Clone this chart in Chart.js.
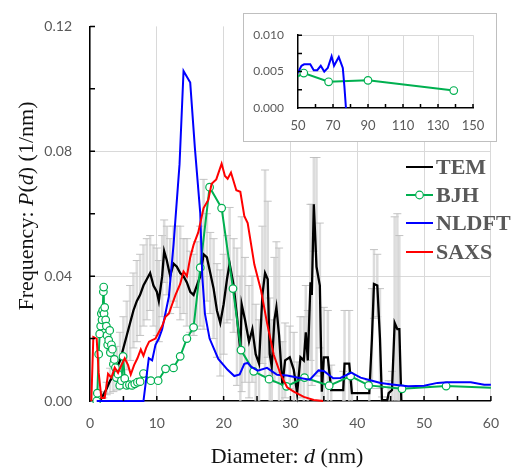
<!DOCTYPE html>
<html>
<head>
<meta charset="utf-8">
<script src="https://cdn.jsdelivr.net/npm/chart.js@4/dist/chart.umd.min.js"></script>
<style>
  body { margin: 0; background: #fff; }
  #wrap { position: relative; width: 513px; height: 472px; }
  #main { position: absolute; left: 0; top: 0; }
  #box { position: absolute; left: 243px; top: 13px; width: 254px; height: 129px; box-sizing: border-box; border: 1px solid #bfbfbf; background: #fff; }
  #inset { position: absolute; left: 0; top: 0; }
</style>
</head>
<body>
<div id="wrap">
  <canvas id="main" width="513" height="472"></canvas>
  <div id="box"><canvas id="inset" width="252" height="127"></canvas></div>
</div>
<script>
// TEM histogram (line) + error
const temX = [1.5, 2, 2.5, 3, 3.5, 4, 4.5, 5, 5.5, 6,
  6.5, 7, 7.5, 8, 8.5, 9, 9.5, 10, 10.3, 10.8,
  11.1, 11.5, 12, 12.5, 13, 13.5, 14, 14.5, 15, 15.5,
  16, 16.5, 17, 17.5, 18, 18.5, 19, 19.5, 20, 20.5,
  20.9, 21.5, 22, 22.5, 22.7, 23.2, 23.8, 24.3, 24.8, 25.3,
  25.8, 26.2, 26.6, 26.9, 27.2, 27.6, 27.9, 28.3, 28.8, 29.2,
  29.9, 30.5, 31.0, 31.5, 32.0, 32.3, 32.6, 33.0, 33.2, 33.5,
  33.9, 34.4, 34.7, 35.0, 35.6, 36.1, 37.9, 38.1, 38.8, 39.2,
  41.8, 42.2, 42.5, 43.0, 43.4, 43.7, 44.5, 44.7, 45.2, 45.6,
  46.0, 46.3, 46.6];
const temY = [0, 0.002, 0.004, 0.0065, 0.008, 0.0105, 0.013, 0.017, 0.021, 0.025,
  0.029, 0.032, 0.034, 0.037, 0.039, 0.041, 0.037, 0.035, 0.032, 0.040,
  0.048, 0.045, 0.040, 0.044, 0.043, 0.041, 0.040, 0.038, 0.035, 0.034,
  0.037, 0.040, 0.047, 0.046, 0.041, 0.036, 0.029, 0.025, 0.031, 0.039,
  0.044, 0.037, 0.027, 0.016, 0.031, 0.026, 0.019, 0.023, 0.015, 0.012,
  0.034, 0.041, 0.039, 0.015, 0.011, 0.026, 0.030, 0.021, 0.005, 0.013,
  0.014, 0.010, 0.0025, 0.014, 0.013, 0.022, 0.013, 0.038, 0.034, 0.063,
  0.043, 0.037, 0.003, 0.014, 0.014, 0.0035, 0.0035, 0.012, 0.012, 0.0025,
  0.0025, 0.020, 0.0375, 0.037, 0.020, 0.0003, 0.0003, 0.0025, 0.0035, 0.025,
  0.023, 0.023, 0];
const temErr = [0, 0.001, 0.002, 0.004, 0.005, 0.007, 0.009, 0.010, 0.011, 0.012,
  0.012, 0.013, 0.013, 0.013, 0.013, 0.012, 0.013, 0.014, 0.013, 0.013,
  0.010, 0.011, 0.012, 0.012, 0.013, 0.015, 0.012, 0.014, 0.013, 0.013,
  0.014, 0.016, 0.024, 0.014, 0.013, 0.016, 0.015, 0.017, 0.016, 0.014,
  0.018, 0.015, 0.022, 0.024, 0.028, 0.020, 0.018, 0.017, 0.016, 0.014,
  0.022, 0.033, 0.025, 0.018, 0.015, 0.020, 0.021, 0.028, 0.014, 0.012,
  0.010, 0.012, 0.010, 0.013, 0.014, 0.015, 0.016, 0.025, 0.029, 0.015,
  0.035, 0.020, 0.006, 0.016, 0.015, 0.008, 0.006, 0.017, 0.017, 0.006,
  0.004, 0.016, 0.011, 0.010, 0.016, 0.001, 0.001, 0.004, 0.006, 0.034,
  0.037, 0.030, 0];

// BJH
const bjhX = [1.0, 1.1, 1.3, 1.45, 1.6, 1.7, 1.8, 1.9, 2.0, 2.05,
  2.1, 2.2, 2.35, 2.45, 2.55, 2.65, 2.8, 2.95, 3.05, 3.2,
  3.35, 3.5, 3.65, 3.8, 3.95, 4.2, 4.45, 4.7, 4.95, 5.2,
  5.5, 5.9, 6.3, 6.7, 7.1, 7.5, 8.0, 9.1, 10.2, 11.3,
  12.5, 13.5, 14.5, 15.5, 16.5, 17.9, 19.7, 21.4, 22.6, 24.5,
  26.8, 29.4, 32.1, 35.8, 39.0, 41.7, 46.7, 53.3, 67.5, 90.0, 139];
const bjhY = [0, 0.0025, 0.015, 0.0215, 0.024, 0.028, 0.026, 0.029, 0.035, 0.0365,
  0.028, 0.030, 0.026, 0.024, 0.021, 0.018, 0.0195, 0.0226, 0.0155, 0.018,
  0.0166, 0.0118, 0.0133, 0.0107, 0.0075, 0.0086, 0.005, 0.0065, 0.0143, 0.0072,
  0.005, 0.0052, 0.005, 0.0055, 0.006, 0.0062, 0.0088, 0.0065, 0.0065, 0.0103,
  0.0106, 0.0143, 0.020, 0.0236, 0.0427, 0.0685, 0.0618, 0.036, 0.0163, 0.0095,
  0.007, 0.0047, 0.0075, 0.0049, 0.008, 0.005, 0.0039, 0.0048, 0.0036, 0.0038, 0.0024];

// NLDFT
const nldftX = [1.0, 8.0, 8.8, 9.3, 9.8, 10.3, 10.8, 11.8, 12.5, 13.4,
  14.0, 15.0, 15.7, 16.5, 16.8, 17.2, 17.9, 19.2, 20.6, 21.6,
  22.4, 23.1, 23.6, 24.1, 25.1, 26.5, 28.0, 29.5, 31.0, 32.9,
  34.2, 35.0, 36.4, 37.5, 39.1, 40.5, 41.8, 43.5, 45.2, 47.6,
  50, 52.0, 53.5, 55, 57, 59, 61, 63, 65, 67,
  69.2, 70.6, 73.3, 75.6, 76.5, 77.4];
const nldftY = [0, 0, 0.0137, 0.013, 0.018, 0.020, 0.023, 0.0334, 0.050, 0.0758,
  0.1057, 0.102, 0.081, 0.0602, 0.040, 0.028, 0.020, 0.0135, 0.010, 0.008,
  0.0085, 0.0119, 0.0122, 0.011, 0.0097, 0.0106, 0.0084, 0.0082, 0.0075, 0.0068,
  0.0098, 0.0096, 0.0073, 0.0074, 0.0091, 0.0075, 0.0067, 0.0058, 0.0053, 0.0047,
  0.0049, 0.0058, 0.006, 0.006, 0.006, 0.0052, 0.0052, 0.0058, 0.005, 0.0055,
  0.0071, 0.0058, 0.007, 0.0055, 0.003, 0];

// SAXS
const saxsX = [0.2, 0.5, 1.0, 1.3, 1.7, 2.2, 2.5, 2.7, 3.2, 3.7,
  4.2, 4.7, 5.2, 5.7, 6.1, 6.6, 7.1, 7.6, 8.0, 8.4,
  8.85, 9.3, 9.8, 10.3, 10.8, 11.3, 11.8, 12.3, 12.8, 13.5,
  14.0, 14.5, 15.0, 15.5, 16.2, 17.0, 17.7, 18.2, 18.9, 19.7,
  20.2, 20.6, 21.1, 21.9, 22.5, 23.1, 23.6, 24.6, 25.6, 26.5,
  27.5, 28.5, 29.5, 30.5, 32.0, 33.5, 34.9];
const saxsY = [0, 0.0205, 0.020, 0.009, 0.001, 0.001, 0.0055, 0.0087, 0.0075, 0.0107,
  0.009, 0.0115, 0.0137, 0.0115, 0.0085, 0.0115, 0.0137, 0.0165, 0.0145, 0.017,
  0.019, 0.0195, 0.020, 0.022, 0.024, 0.027, 0.028, 0.031, 0.034, 0.0375,
  0.0415, 0.040, 0.046, 0.050, 0.054, 0.0618, 0.0644, 0.0696, 0.071, 0.076,
  0.0721, 0.0712, 0.0732, 0.0675, 0.067, 0.0592, 0.057, 0.0437, 0.0354, 0.025,
  0.0148, 0.0087, 0.0044, 0.003, 0.0013, 0.0003, 0];

const seriesNames = ['TEM', 'BJH', 'NLDFT', 'SAXS'];
const seriesColors = ['#000000', '#00b050', '#0000ff', '#ff0000'];

const pts = (xs, ys) => xs.map((x, i) => ({ x: x, y: ys[i] }));
const tickFont = { family: 'Lato', size: 14 };
const gray = '#595959';

function lineSet(i, xs, ys, extra) {
  return Object.assign({
    label: seriesNames[i],
    data: pts(xs, ys),
    borderColor: seriesColors[i],
    backgroundColor: seriesColors[i],
    borderWidth: 2,
    pointRadius: 0,
    tension: 0,
    order: 4 - i,
    clip: { left: 0, top: 0, right: 0, bottom: 2 }
  }, extra || {});
}
const bjhMarker = { pointRadius: 3.8, pointBackgroundColor: '#fff', pointBorderColor: '#00b050', pointBorderWidth: 1.2 };

// main chart decorations: error bars, inward ticks, titles, legend
const mainDecor = {
  id: 'mainDecor',
  beforeDatasetsDraw(chart) {
    const { ctx, chartArea: a, scales: { x, y } } = chart;
    ctx.save();
    ctx.beginPath();
    ctx.rect(a.left, a.top, a.right - a.left, a.bottom - a.top);
    ctx.clip();
    temX.forEach((v, i) => {
      if (!temErr[i]) return;
      const px = x.getPixelForValue(v);
      const top = y.getPixelForValue(temY[i] + temErr[i]);
      const lo = temY[i] - temErr[i];
      const bot = y.getPixelForValue(Math.max(0, lo));
      ctx.strokeStyle = 'rgba(205,205,205,0.7)';
      ctx.lineWidth = 2.5;
      ctx.beginPath(); ctx.moveTo(px, bot); ctx.lineTo(px, top); ctx.stroke();
      ctx.strokeStyle = 'rgba(190,190,190,0.9)';
      ctx.lineWidth = 1;
      ctx.beginPath(); ctx.moveTo(px - 4, top); ctx.lineTo(px + 4, top);
      if (lo > 0) { ctx.moveTo(px - 4, bot); ctx.lineTo(px + 4, bot); }
      ctx.stroke();
    });
    ctx.restore();
  },
  afterDraw(chart) {
    const { ctx, chartArea: a, scales: { x, y } } = chart;
    ctx.save();
    ctx.strokeStyle = '#000';
    ctx.lineWidth = 1.5;
    ctx.beginPath();
    for (let v = 5; v <= 60; v += 5) {
      const px = x.getPixelForValue(v);
      ctx.moveTo(px, a.bottom); ctx.lineTo(px, a.bottom - 5);
    }
    for (let k = 1; k <= 6; k++) {
      const py = y.getPixelForValue(k * 0.02);
      ctx.moveTo(a.left, py); ctx.lineTo(a.left + 5, py);
    }
    ctx.stroke();

    // axis titles (mixed italic)
    const serif = "'Liberation Serif', 'Times New Roman', serif";
    function mixed(parts, cx, cy) {
      let w = 0;
      parts.forEach(p => { ctx.font = p[1] + ' 22px ' + serif; w += ctx.measureText(p[0]).width; });
      let sx = cx - w / 2;
      parts.forEach(p => {
        ctx.font = p[1] + ' 22px ' + serif;
        ctx.fillText(p[0], sx, cy);
        sx += ctx.measureText(p[0]).width;
      });
    }
    ctx.fillStyle = '#111';
    ctx.textBaseline = 'middle';
    ctx.textAlign = 'left';
    mixed([['Diameter: ', 'normal'], ['d', 'italic'], [' (nm)', 'normal']], 287, 457);
    ctx.save();
    ctx.translate(27, 206);
    ctx.rotate(-Math.PI / 2);
    mixed([['Frequency: ', 'normal'], ['P', 'italic'], ['(', 'normal'], ['d', 'italic'], [') (1/nm)', 'normal']], 0, 0);
    ctx.restore();

    // legend
    const rows = [167, 195, 223, 252];
    chart.data.datasets.forEach((ds, i) => {
      const ry = rows[i];
      ctx.strokeStyle = ds.borderColor;
      ctx.lineWidth = 2;
      ctx.beginPath(); ctx.moveTo(406, ry); ctx.lineTo(433, ry); ctx.stroke();
      if (ds.pointRadius > 0) {
        ctx.fillStyle = '#fff';
        ctx.lineWidth = 1.2;
        ctx.beginPath(); ctx.arc(419.5, ry, 3.8, 0, Math.PI * 2); ctx.fill(); ctx.stroke();
      }
      ctx.fillStyle = gray;
      ctx.font = "bold 22px " + serif;
      ctx.fillText(ds.label, 436, ry + 1);
    });
    ctx.restore();
  }
};

new Chart(document.getElementById('main'), {
  type: 'line',
  data: {
    datasets: [
      lineSet(0, temX, temY, { borderWidth: 2.3 }),
      lineSet(1, bjhX, bjhY, bjhMarker),
      lineSet(2, nldftX, nldftY),
      lineSet(3, saxsX, saxsY)
    ]
  },
  options: {
    responsive: false,
    animation: false,
    layout: { padding: { top: 13, right: 16, left: 0, bottom: 0 } },
    plugins: { legend: { display: false }, tooltip: { enabled: false } },
    scales: {
      x: {
        type: 'linear', min: 0, max: 60,
        afterFit: s => { s.height = 71; },
        ticks: { stepSize: 10, padding: 14, color: gray, font: tickFont },
        grid: { color: '#d9d9d9', drawTicks: false },
        border: { color: '#000', width: 1.5 }
      },
      y: {
        type: 'linear', min: 0, max: 0.12,
        afterFit: s => { s.width = 90; },
        ticks: { stepSize: 0.04, padding: 18, color: gray, font: tickFont, callback: v => v.toFixed(2) },
        grid: {
          color: c => (c.tick && (c.tick.value < 0.001 || c.tick.value > 0.11)) ? 'rgba(0,0,0,0)' : '#d9d9d9',
          drawTicks: false
        },
        border: { color: '#000', width: 1.5 }
      }
    }
  },
  plugins: [mainDecor]
});

// inset (50-150 nm)
const insetTicks = {
  id: 'insetTicks',
  afterDraw(chart) {
    const { ctx, chartArea: a, scales: { x, y } } = chart;
    ctx.save();
    ctx.strokeStyle = '#000';
    ctx.lineWidth = 1.5;
    ctx.beginPath();
    for (let v = 60; v <= 150; v += 10) {
      const px = x.getPixelForValue(v);
      ctx.moveTo(px, a.bottom); ctx.lineTo(px, a.bottom - 4);
    }
    for (let k = 1; k <= 4; k++) {
      const py = y.getPixelForValue(k * 0.0025);
      ctx.moveTo(a.left, py); ctx.lineTo(a.left + 4, py);
    }
    ctx.stroke();
    ctx.restore();
  }
};

new Chart(document.getElementById('inset'), {
  type: 'line',
  data: {
    datasets: [
      lineSet(1, bjhX, bjhY, Object.assign({}, bjhMarker, { clip: 0 })),
      lineSet(2, nldftX, nldftY, { clip: { left: 0, top: 0, right: 0, bottom: 2 } })
    ]
  },
  options: {
    responsive: false,
    animation: false,
    layout: { padding: { top: 13, right: 23, left: 0, bottom: 0 } },
    plugins: { legend: { display: false }, tooltip: { enabled: false } },
    scales: {
      x: {
        type: 'linear', min: 50, max: 150,
        afterFit: s => { s.height = 33; },
        ticks: { stepSize: 20, padding: 10, color: gray, font: { family: 'Lato', size: 13 } },
        grid: { color: c => (c.tick && c.tick.value === 50) ? 'rgba(0,0,0,0)' : '#d9d9d9', drawTicks: false },
        border: { color: '#000', width: 1.5 }
      },
      y: {
        type: 'linear', min: 0, max: 0.01,
        afterFit: s => { s.width = 54; },
        ticks: { stepSize: 0.005, padding: 14, color: gray, font: { family: 'Lato', size: 12 }, callback: v => v.toFixed(3) },
        grid: { color: c => (c.tick && c.tick.value < 0.0001) ? 'rgba(0,0,0,0)' : '#d9d9d9', drawTicks: false },
        border: { color: '#000', width: 1.5 }
      }
    }
  },
  plugins: [insetTicks]
});
</script>
</body>
</html>
